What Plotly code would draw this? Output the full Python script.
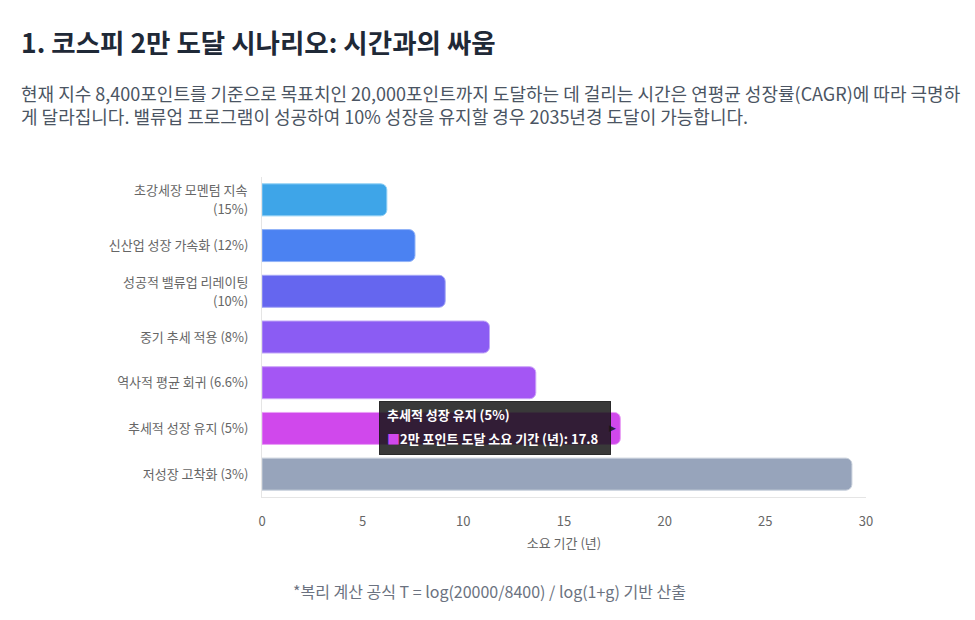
import plotly.graph_objects as go

# scenarios (top to bottom) and years needed to reach 20,000
scenarios = [
    "초강세장 모멘텀 지속<br>(15%)",
    "신산업 성장 가속화 (12%)",
    "성공적 밸류업 리레이팅<br>(10%)",
    "중기 추세 적용 (8%)",
    "역사적 평균 회귀 (6.6%)",
    "추세적 성장 유지 (5%)",
    "저성장 고착화 (3%)",
]
years = [6.2, 7.6, 9.1, 11.3, 13.6, 17.8, 29.3]
bar_colors = ["#3ea5e8", "#4b82f2", "#6566ef", "#8b5cf3", "#a456f4", "#d048ec", "#97a4bb"]
line_colors = ["#8fd0f5", "#93b4f8", "#a5a7f6", "#c1a6f8", "#cba4f8", "#e9a0f5", "#c6ceda"]
xticks = [0, 5, 10, 15, 20, 25, 30]
series_name = "2만 포인트 도달 소요 기간 (년)"

font_family = "Noto Sans CJK KR, Noto Sans, sans-serif"
label_font = dict(family=font_family, size=13, color="#666666")

fig = go.Figure()
fig.add_trace(go.Bar(
    x=years,
    y=scenarios,
    orientation="h",
    width=0.7,
    name=series_name,
    marker=dict(color=bar_colors, line=dict(color=line_colors, width=1), cornerradius=6),
    hovertemplate="%{x}<extra></extra>",
))

# two-line category labels get wider line spacing than plotly's tick labels allow
ticktext = []
for s in scenarios:
    if "<br>" in s:
        ticktext.append("")
        first, second = s.split("<br>")
        for line, dy in ((first, 10), (second, -9)):
            fig.add_annotation(x=0, y=s, xref="paper", yref="y", text=line, showarrow=False,
                               xanchor="right", yanchor="middle", xshift=-13, yshift=dy,
                               borderpad=0, font=label_font)
    else:
        ticktext.append(s)

# hovered tooltip shown in the reference (5% scenario): box, caret, title, body
hi = 5
tip_bg = "rgba(22,22,22,0.85)"
tip = dict(x=years[hi], y=scenarios[hi], xref="x", yref="y", showarrow=False,
           yanchor="middle")
fig.add_annotation(**tip, text=" ", xanchor="right", xshift=-9, width=216, height=38,
                   borderpad=7, bgcolor=tip_bg, bordercolor=tip_bg,
                   font=dict(family=font_family, size=13))
fig.add_annotation(**tip, text="▶", xanchor="right", xshift=-3, borderpad=0,
                   font=dict(family="DejaVu Sans", size=9, color=tip_bg))
fig.add_annotation(**tip, text="<b>추세적 성장 유지 (5%)</b>", xanchor="right", xshift=-16,
                   yshift=14, width=216, align="left", borderpad=0,
                   font=dict(family=font_family, size=13, color="white"))
fig.add_annotation(**tip, xanchor="right", xshift=-16, yshift=-10, width=216, align="left",
                   borderpad=0,
                   text=f"<span style='color:{bar_colors[hi]}'>■</span><b>{series_name}: {years[hi]}</b>",
                   font=dict(family=font_family, size=13, color="white"))

fig.add_annotation(
    x=-0.402, y=1.425, xref="paper", yref="paper", xanchor="left", yanchor="middle",
    text="<b>1. 코스피 2만 도달 시나리오: 시간과의 싸움</b>", showarrow=False,
    font=dict(family=font_family, size=26.5, color="#1f2937"),
)
fig.add_annotation(
    x=-0.402, y=1.225, xref="paper", yref="paper", xanchor="left", yanchor="middle",
    align="left",
    text=("현재 지수 8,400포인트를 기준으로 목표치인 20,000포인트까지 도달하는 데 걸리는 시간은 연평균 성장률(CAGR)에 따라 극명하<br>"
          "게 달라집니다. 밸류업 프로그램이 성공하여 10% 성장을 유지할 경우 2035년경 도달이 가능합니다."),
    showarrow=False, font=dict(family=font_family, size=18, color="#4b5563"),
)
fig.add_annotation(
    x=0.377, y=-0.294, xref="paper", yref="paper", xanchor="center", yanchor="middle",
    text="*복리 계산 공식 T = log(20000/8400) / log(1+g) 기반 산출", showarrow=False,
    font=dict(family=font_family, size=16, color="#6b7280"),
)

fig.update_layout(
    width=975, height=620,
    margin=dict(l=254, r=117, t=169, b=131),
    plot_bgcolor="white", paper_bgcolor="white",
    showlegend=False,
    font=dict(family=font_family, size=13, color="#666666"),
    bargap=0.3,
)
fig.update_xaxes(
    range=[0, 30], tickvals=xticks, showgrid=False, zeroline=False,
    showline=True, linecolor="#e5e5e5", linewidth=1, ticks="",
    ticklabelstandoff=12, tickfont=label_font,
    title=dict(text="소요 기간 (년)", font=dict(size=13, color="#666666"), standoff=10),
)
fig.update_yaxes(
    autorange="reversed", showgrid=False, zeroline=False,
    showline=True, linecolor="#e5e5e5", linewidth=1, ticks="",
    tickvals=scenarios, ticktext=ticktext,
    ticklabelstandoff=10, tickfont=label_font,
)

fig.write_html("out.html")
